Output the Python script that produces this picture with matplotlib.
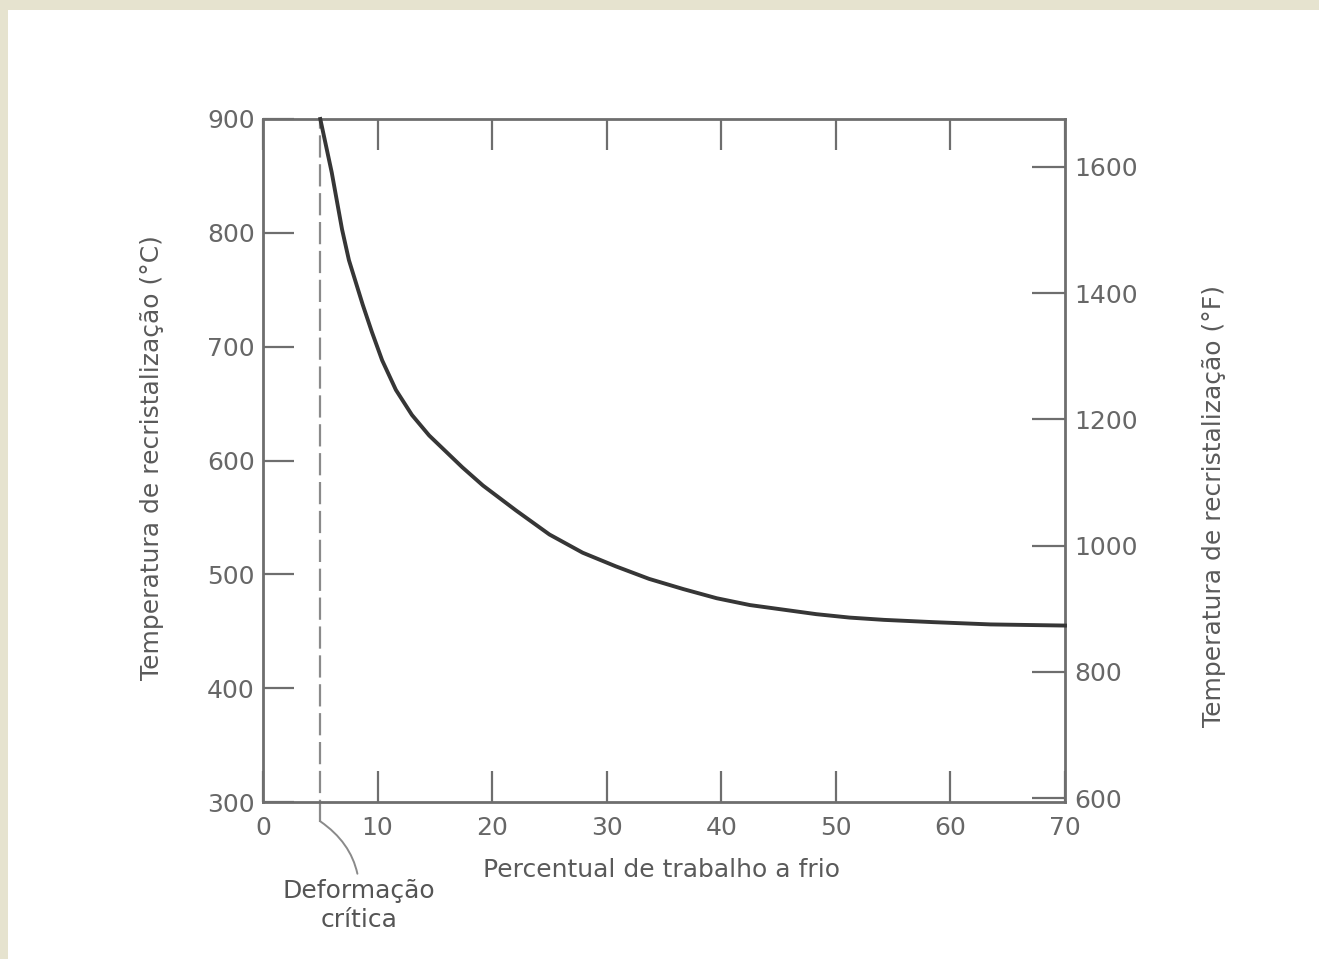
import matplotlib
matplotlib.use("Agg")
import matplotlib.pyplot as plt
from matplotlib.patches import Rectangle

# ---- data ----
cold_work_pct = [5, 6.0, 6.9, 7.5, 8.7, 9.5, 10.4, 11.6, 13.0, 14.5, 17.4, 19.2, 22.1, 25.0,
                 27.9, 30.8, 33.7, 36.7, 39.6, 42.5, 45.4, 48.3, 51.2, 54.2, 58.5, 63.5, 70]
recryst_temp_c = [900, 853, 803, 776, 737, 713, 688, 662, 640, 622, 594, 578, 556, 535,
                  519, 507, 496, 487, 479, 473, 469, 465, 462, 460, 458, 456, 455]
critical_deformation = 5

x_ticks = [0, 10, 20, 30, 40, 50, 60, 70]
c_ticks = [300, 400, 500, 600, 700, 800, 900]
f_ticks = [600, 800, 1000, 1200, 1400, 1600]

xlabel = "Percentual de trabalho a frio"
ylabel_c = "Temperatura de recristalização (°C)"
ylabel_f = "Temperatura de recristalização (°F)"
annot_text = "Deformação\ncrítica"

plt.rcParams['font.family'] = ['DejaVu Sans']

W, H = 1319, 959
fig = plt.figure(figsize=(W / 100, H / 100), dpi=100)
fig.patch.set_facecolor('white')
beige = '#e6e3cf'
fig.add_artist(Rectangle((0, 0), 8 / W, 1, transform=fig.transFigure,
                         facecolor=beige, edgecolor='none', zorder=-5))
fig.add_artist(Rectangle((0, 1 - 10 / H), 1, 10 / H, transform=fig.transFigure,
                         facecolor=beige, edgecolor='none', zorder=-5))

left, right, bottom, top = 263, 1065, 802, 119
ax = fig.add_axes([left / W, 1 - bottom / H, (right - left) / W, (bottom - top) / H])
ax.set_facecolor('none')

line_col = '#6e6e6e'
txt_col = '#676767'
lab_col = '#5a5a5a'

ax.plot(cold_work_pct, recryst_temp_c, color='#363636', lw=2.8, solid_joinstyle='round',
        clip_on=False, zorder=3)
ax.axvline(critical_deformation, ymin=-0.03, ymax=1, color='#8a8a8a', lw=1.6,
           linestyle=(0, (10, 3)), clip_on=False, zorder=2)

ax.set_xlim(0, 70)
ax.set_ylim(300, 900)
ax.set_xticks(x_ticks)
ax.set_yticks(c_ticks)

for s in ax.spines.values():
    s.set_color(line_col)
    s.set_linewidth(2.0)

ax.tick_params(axis='x', which='both', direction='in', length=22, width=1.6, color=line_col,
               labelsize=18, labelcolor=txt_col, pad=10, top=True)
ax.tick_params(axis='y', direction='in', length=22, width=1.6, color=line_col,
               labelsize=18, labelcolor=txt_col, pad=6)

ax.set_xlabel(xlabel, fontsize=18, color=lab_col)
ax.xaxis.set_label_coords(0.497, -0.082)
ax.set_ylabel(ylabel_c, fontsize=18, color=lab_col)
ax.yaxis.set_label_coords(-0.124, 0.505)

ax2 = ax.twinx()
ax2.set_ylim(593.7, 1676)
ax2.set_yticks(f_ticks)
ax2.tick_params(axis='y', direction='in', length=24, width=1.6, color=line_col,
                labelsize=18, labelcolor=txt_col, pad=7)
for s in ax2.spines.values():
    s.set_visible(False)
ax2.set_ylabel(ylabel_f, fontsize=18, color=lab_col)
ax2.yaxis.set_label_coords(1.171, 0.433)

ax.annotate(annot_text, xy=(critical_deformation, 283), xytext=(8.35, 209),
            xycoords='data', textcoords='data', ha='center', va='center',
            fontsize=18, color='#555555', linespacing=1.25, annotation_clip=False,
            arrowprops=dict(arrowstyle='-', color='#8a8a8a', lw=1.4,
                            connectionstyle='arc3,rad=0.3', shrinkA=2, shrinkB=0))

fig.savefig('out.png', dpi=100, facecolor=fig.get_facecolor())
